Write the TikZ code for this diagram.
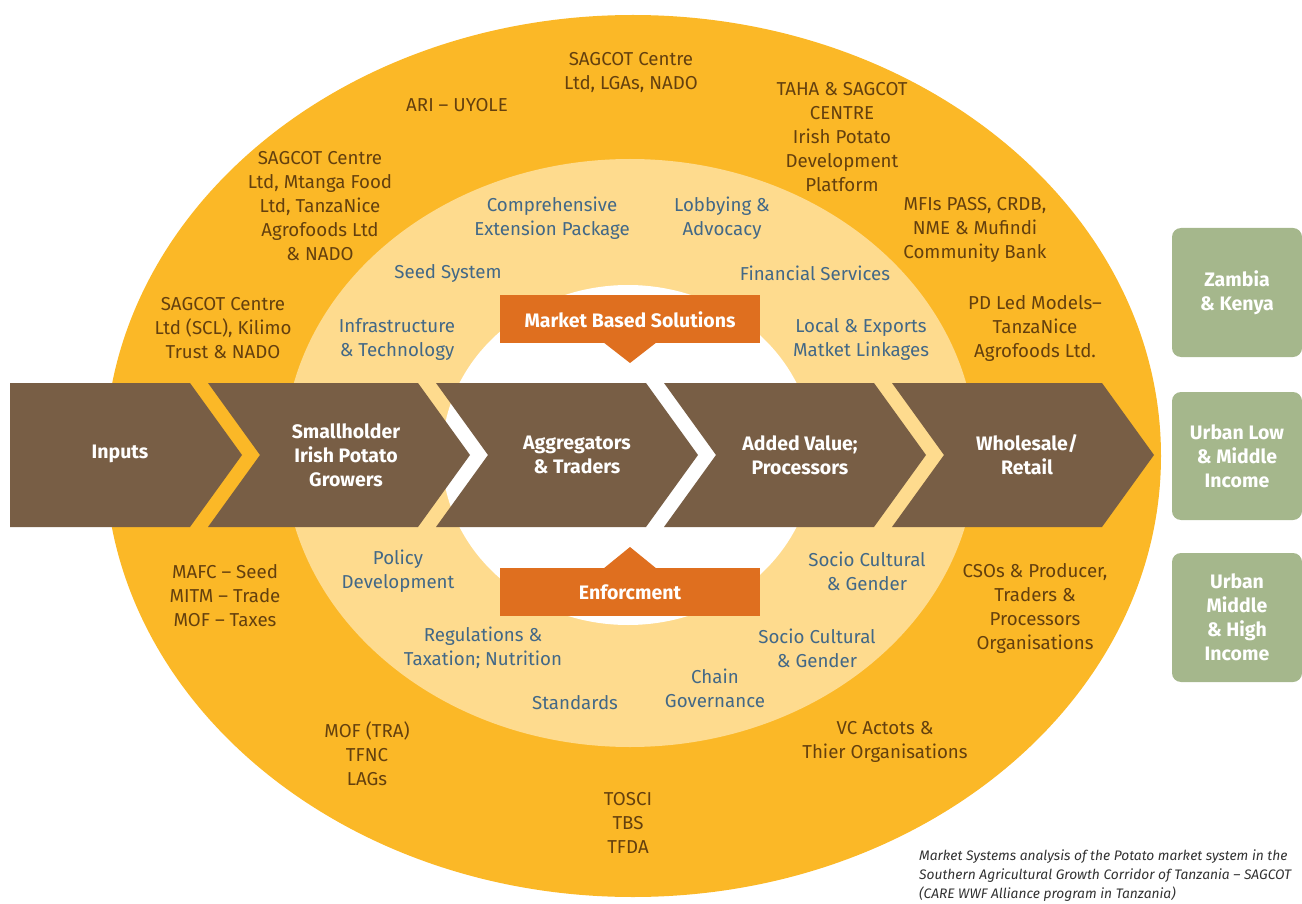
\documentclass[tikz,border=0pt]{standalone}
\usepackage{fontspec}
\setmainfont{Fira Sans}
\begin{document}
\begin{tikzpicture}[x=1pt,y=-1pt,
  outertxt/.style={text=outc,align=center,font=\fontsize{18.7}{24}\selectfont,inner sep=0pt},
  innertxt/.style={text=innc,align=center,font=\fontsize{18.7}{24}\selectfont,inner sep=0pt},
  chevtxt/.style={text=white,align=center,font=\fontsize{19.5}{24}\selectfont\bfseries,inner sep=0pt},
  greenbox/.style={fill=greenc,rounded corners=9pt,minimum width=130pt,text=white,align=center,font=\fontsize{19.5}{24}\selectfont\bfseries,inner sep=0pt},
  bandtxt/.style={text=white,font=\fontsize{19.5}{24}\selectfont\bfseries,inner sep=0pt}]
\definecolor{orangec}{RGB}{251,184,39}
\definecolor{lightc}{RGB}{254,219,142}
\definecolor{brownc}{RGB}{120,94,69}
\definecolor{boxc}{RGB}{223,111,31}
\definecolor{greenc}{RGB}{165,183,140}
\definecolor{outc}{RGB}{100,64,14}
\definecolor{innc}{RGB}{66,104,135}
\definecolor{capc}{RGB}{50,50,50}
\useasboundingbox (0,0) rectangle (1302,904);
\clip (0,0) rectangle (1302,904);
% ellipses
\fill[orangec] (633,456) ellipse [x radius=528, y radius=441];
\fill[lightc] (630,453) ellipse [x radius=346, y radius=294];
\fill[white] (628,455) ellipse [x radius=186, y radius=170];
% boxes with pointers
\fill[boxc] (500,295) rectangle (760,343);
\fill[boxc] (603,342) -- (657,342) -- (630,363) -- cycle;
\fill[boxc] (500,568) rectangle (760,616);
\fill[boxc] (603,569) -- (657,569) -- (630,547) -- cycle;
\node[bandtxt] (mbs) at (630,320) {Market Based Solutions};
\node[bandtxt] (enf) at (630,592) {Enforcment};
% chevrons
\fill[brownc] (10,383) -- (190,383) -- (242,455) -- (190,527) -- (10,527) -- cycle;
\foreach \s in {208,436,664,892}{
  \fill[brownc] (\s,383) -- ++(210,0) -- ++(52,72) -- ++(-52,72) -- ++(-210,0) -- ++(52,-72) -- cycle;
}
\node[chevtxt] (inputs) at (120,454) {Inputs};
\node[chevtxt] (growers) at (346,455) {Smallholder\\Irish Potato\\Growers};
\node[chevtxt] (aggr) at (577,455) {Aggregators\\\& Traders};
\node[chevtxt] (proc) at (800,455) {Added Value;\\Processors};
\node[chevtxt] (retail) at (1027,455) {Wholesale/\\Retail};
% green boxes
\node[greenbox,minimum height=129pt] (zambia) at (1237,292.5) {Zambia\\\& Kenya};
\node[greenbox,minimum height=128pt] (urbanlow) at (1237,456) {Urban Low\\\& Middle\\Income};
\node[greenbox,minimum height=129pt] (urbanhigh) at (1237,617.5) {Urban\\Middle\\\& High\\Income};
% outer texts
\node[outertxt] (o1) at (631,72) {SAGCOT Centre\\Ltd, LGAs, NADO};
\node[outertxt] (o2) at (457,105) {ARI -- UYOLE};
\node[outertxt] (o3) at (320,206) {SAGCOT Centre\\Ltd, Mtanga Food\\Ltd, TanzaNice\\Agrofoods Ltd\\\& NADO};
\node[outertxt] (o4) at (842,137) {TAHA \& SAGCOT\\CENTRE\\Irish Potato\\Development\\Platform};
\node[outertxt] (o5) at (975,230) {MFIs PASS, CRDB,\\NME \& Mufindi\\Community Bank};
\node[outertxt] (o6) at (1035,328) {PD Led Models--\\TanzaNice\\Agrofoods Ltd.};
\node[outertxt] (o7) at (223,328) {SAGCOT Centre\\Ltd (SCL), Kilimo\\Trust \& NADO};
\node[outertxt] (o8) at (225,596) {MAFC -- Seed\\MITM -- Trade\\MOF -- Taxes};
\node[outertxt] (o9) at (367,754) {MOF (TRA)\\TFNC\\LAGs};
\node[outertxt] (o10) at (628,823) {TOSCI\\TBS\\TFDA};
\node[outertxt] (o11) at (885,742) {VC Actots \&\\Thier Organisations};
\node[outertxt] (o12) at (1035,608) {CSOs \& Producer,\\Traders \&\\Processors\\Organisations};
% inner texts
\node[innertxt] (i1) at (552,218) {Comprehensive\\Extension Package};
\node[innertxt] (i2) at (722,218) {Lobbying \&\\Advocacy};
\node[innertxt] (i3) at (448,273) {Seed System};
\node[innertxt] (i4) at (815,273) {Financial Services};
\node[innertxt] (i5) at (397,339) {Infrastructure\\\& Technology};
\node[innertxt] (i6) at (861,339) {Local \& Exports\\Matket Linkages};
\node[innertxt] (i7) at (398,571) {Policy\\Development};
\node[innertxt] (i8) at (867,571) {Socio Cultural\\\& Gender};
\node[innertxt] (i9) at (483,648) {Regulations \&\\Taxation; Nutrition};
\node[innertxt] (i10) at (817,648) {Socio Cultural\\\& Gender};
\node[innertxt] (i11) at (575,703) {Standards};
\node[innertxt] (i12) at (715,688) {Chain\\Governance};
% caption
\node[anchor=north west,align=left,text=capc,font=\fontsize{13.8}{19}\selectfont\itshape,inner sep=0pt] (cap) at (919,850)
  {Market Systems analysis of the Potato market system in the\\Southern Agricultural Growth Corridor of Tanzania -- SAGCOT\\(CARE WWF Alliance program in Tanzania)};
\end{tikzpicture}
\end{document}
